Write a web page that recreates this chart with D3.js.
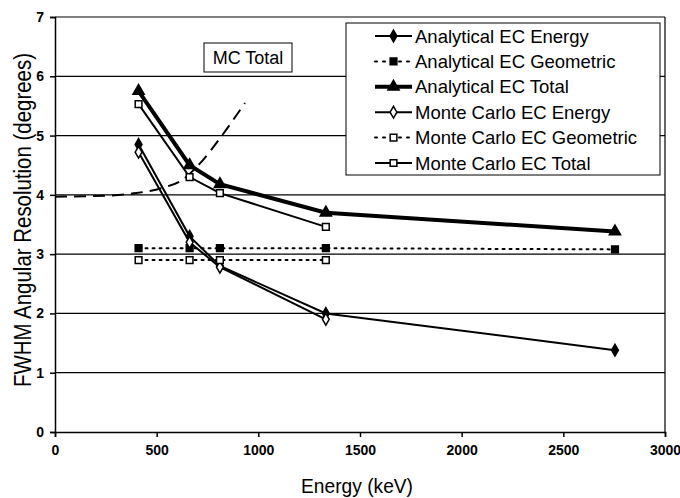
<!DOCTYPE html>
<html>
<head>
<meta charset="utf-8">
<script src="https://cdn.jsdelivr.net/npm/d3@7"></script>
<style>
  body { margin: 0; background: #fff; }
  text { font-family: "Liberation Sans", Arial, sans-serif; fill: #000; }
</style>
</head>
<body>
<script>
var width = 680, height = 498;
var margin = {top: 17, right: 15, bottom: 66, left: 55};

// energies (keV)
var energy = [411, 662, 811, 1332, 2754];
var energyMC = [411, 662, 811, 1332];

var anaEnergy = [4.85, 3.3, 2.8, 2.0, 1.38];
var anaGeom = [3.1, 3.1, 3.1, 3.1, 3.08];
var anaTotal = [5.75, 4.5, 4.18, 3.7, 3.38];
var mcEnergy = [4.72, 3.2, 2.78, 1.9];
var mcGeom = [2.9, 2.9, 2.9, 2.9];
var mcTotal = [5.53, 4.3, 4.03, 3.46];

// dashed "MC Total" curve
var curveX = [0, 200, 400, 530, 625, 713, 821, 934];
var curveY = [3.97, 3.98, 4.03, 4.12, 4.25, 4.53, 5.0, 5.55];

var xTicks = [0, 500, 1000, 1500, 2000, 2500, 3000];
var xTickLabels = ["0", "500", "1000", "1500", "2000", "2500", "3000"];
var yTicks = [0, 1, 2, 3, 4, 5, 6, 7];

var series = [
  {name: "Analytical EC Energy", x: energy, y: anaEnergy, w: 2, dash: null, sym: "diamond", fill: true},
  {name: "Analytical EC Geometric", x: energy, y: anaGeom, w: 2, dash: "2,5", sym: "square", fill: true},
  {name: "Analytical EC Total", x: energy, y: anaTotal, w: 4, dash: null, sym: "triangle", fill: true},
  {name: "Monte Carlo EC Energy", x: energyMC, y: mcEnergy, w: 2, dash: null, sym: "diamond", fill: false},
  {name: "Monte Carlo EC Geometric", x: energyMC, y: mcGeom, w: 2, dash: "2,5", sym: "square", fill: false},
  {name: "Monte Carlo EC Total", x: energyMC, y: mcTotal, w: 2, dash: null, sym: "square", fill: false}
];

var svg = d3.select("body").append("svg")
  .attr("width", width).attr("height", height);

var x = d3.scaleLinear().domain([0, 3000]).range([margin.left, width - margin.right]);
var y = d3.scaleLinear().domain([0, 7]).range([height - margin.bottom, margin.top]);

// grid
svg.append("g").selectAll("line").data(yTicks.slice(1)).enter().append("line")
  .attr("x1", x(0)).attr("x2", x(3000))
  .attr("y1", function (d) { return y(d); }).attr("y2", function (d) { return y(d); })
  .attr("stroke", "#000").attr("stroke-width", 1.2);

// right border
svg.append("line").attr("x1", x(3000)).attr("x2", x(3000)).attr("y1", y(7)).attr("y2", y(0))
  .attr("stroke", "#000").attr("stroke-width", 1.2);

var xAxis = svg.append("g").attr("transform", "translate(0," + y(0) + ")")
  .call(d3.axisBottom(x).tickValues(xTicks).tickSize(5).tickPadding(8)
    .tickFormat(function (d, i) { return xTickLabels[i]; }));
var yAxis = svg.append("g").attr("transform", "translate(" + x(0) + ",0)")
  .call(d3.axisLeft(y).tickValues(yTicks).tickSize(5).tickPadding(6).tickFormat(d3.format("d")));
[xAxis, yAxis].forEach(function (a) {
  a.selectAll("path, line").attr("stroke", "#000").attr("stroke-width", 1.5);
  a.selectAll("text").style("font-size", "14px").style("font-weight", "bold")
    .style("font-family", "'Liberation Sans', Arial, sans-serif");
});

svg.append("text").attr("x", 357).attr("y", 493).attr("text-anchor", "middle")
  .attr("textLength", 112).attr("lengthAdjust", "spacingAndGlyphs")
  .style("font-size", "21px").text("Energy (keV)");
svg.append("text").attr("transform", "translate(31,220) rotate(-90)").attr("text-anchor", "middle")
  .attr("textLength", 334).attr("lengthAdjust", "spacingAndGlyphs")
  .style("font-size", "23px").text("FWHM Angular Resolution (degrees)");

// dashed curve
var line = d3.line().curve(d3.curveMonotoneX);
svg.append("path")
  .attr("d", line(curveX.map(function (d, i) { return [x(d), y(curveY[i])]; })))
  .attr("fill", "none").attr("stroke", "#000").attr("stroke-width", 2)
  .attr("stroke-dasharray", "12,7");

function symbol(g, s, cx, cy) {
  var p;
  if (s.sym === "diamond") p = d3.symbol(d3.symbolDiamond, 40)();
  else if (s.sym === "triangle") p = d3.symbol(d3.symbolTriangle, 55)();
  else p = d3.symbol(d3.symbolSquare, 45)();
  g.append("path").attr("d", p).attr("transform", "translate(" + cx + "," + cy + ")")
    .attr("fill", s.fill ? "#000" : "#fff").attr("stroke", "#000").attr("stroke-width", 1.5);
}

var plain = d3.line();
series.forEach(function (s) {
  var pts = s.x.map(function (d, i) { return [x(d), y(s.y[i])]; });
  svg.append("path").attr("d", plain(pts)).attr("fill", "none")
    .attr("stroke", "#000").attr("stroke-width", s.w)
    .attr("stroke-dasharray", s.dash).attr("stroke-linecap", s.dash ? "round" : "butt");
  var g = svg.append("g");
  pts.forEach(function (p) { symbol(g, s, p[0], p[1]); });
});

// MC Total label
svg.append("rect").attr("x", 204).attr("y", 43).attr("width", 88).attr("height", 29)
  .attr("fill", "#fff").attr("stroke", "#000").attr("stroke-width", 1);
svg.append("text").attr("x", 248).attr("y", 64).attr("text-anchor", "middle")
  .style("font-size", "18px").text("MC Total");

// legend
var lg = svg.append("g");
lg.append("rect").attr("x", 346).attr("y", 23).attr("width", 314).attr("height", 152)
  .attr("fill", "#fff").attr("stroke", "#000").attr("stroke-width", 1);
series.forEach(function (s, i) {
  var ly = 36 + i * 25.4;
  lg.append("line").attr("x1", 375).attr("x2", 412).attr("y1", ly).attr("y2", ly)
    .attr("stroke", "#000").attr("stroke-width", s.w)
    .attr("stroke-dasharray", s.dash ? "2,6" : null).attr("stroke-linecap", s.dash ? "round" : "butt");
  symbol(lg, s, 393.5, ly);
  lg.append("text").attr("x", 415).attr("y", ly + 6.5).style("font-size", "18.5px").text(s.name);
});
</script>
</body>
</html>
